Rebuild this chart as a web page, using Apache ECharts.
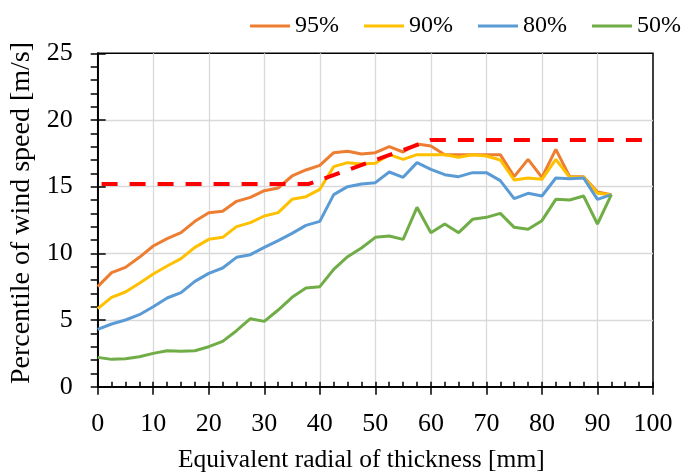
<!DOCTYPE html>
<html>
<head>
<meta charset="utf-8">
<script src="https://cdn.jsdelivr.net/npm/echarts@6/dist/echarts.min.js"></script>
<style>html,body{margin:0;padding:0;background:#fff;}#c{width:689px;height:472px;}</style>
</head>
<body>
<div id="c"></div>
<script>
const radial = [0, 2.5, 5, 7.5, 10, 12.5, 15, 17.5, 20, 22.5, 25, 27.5, 30, 32.5, 35, 37.5, 40, 42.5, 45, 47.5, 50, 52.5, 55, 57.5, 60, 62.5, 65, 67.5, 70, 72.5, 75, 77.5, 80, 82.5, 85, 87.5, 90, 92.5];
const p95 = [7.5, 8.55, 8.95, 9.7, 10.55, 11.1, 11.55, 12.4, 13.05, 13.15, 13.9, 14.2, 14.7, 14.9, 15.8, 16.25, 16.6, 17.55, 17.65, 17.45, 17.55, 18.0, 17.6, 18.2, 18.05, 17.4, 17.4, 17.4, 17.4, 17.4, 15.75, 17.05, 15.7, 17.8, 15.75, 15.75, 14.6, 14.4];
const p90 = [5.85, 6.7, 7.1, 7.75, 8.45, 9.05, 9.6, 10.45, 11.05, 11.2, 12.0, 12.3, 12.8, 13.05, 14.05, 14.25, 14.8, 16.5, 16.8, 16.7, 16.75, 17.4, 17.05, 17.4, 17.4, 17.4, 17.2, 17.4, 17.3, 17.0, 15.5, 15.65, 15.55, 17.05, 15.7, 15.7, 14.5, 14.4];
const p80 = [4.3, 4.7, 5.0, 5.4, 6.0, 6.65, 7.05, 7.9, 8.5, 8.9, 9.7, 9.9, 10.45, 10.95, 11.5, 12.1, 12.4, 14.4, 15.0, 15.2, 15.3, 16.1, 15.7, 16.8, 16.3, 15.9, 15.75, 16.05, 16.05, 15.45, 14.1, 14.5, 14.3, 15.65, 15.6, 15.65, 14.05, 14.4];
const p50 = [2.2, 2.05, 2.1, 2.25, 2.5, 2.7, 2.65, 2.7, 3.0, 3.4, 4.2, 5.1, 4.9, 5.75, 6.7, 7.4, 7.5, 8.8, 9.75, 10.4, 11.2, 11.3, 11.05, 13.45, 11.55, 12.2, 11.55, 12.55, 12.7, 13.0, 11.95, 11.8, 12.45, 14.05, 14.0, 14.3, 12.2, 14.4];
const limitX = [0.7, 38, 60, 99];
const limitY = [15.2, 15.2, 18.5, 18.5];
const seriesNames = ['95%', '90%', '80%', '50%'];
const seriesColors = ['#ED7D31', '#FFC000', '#5B9BD5', '#70AD47'];
const xTitle = 'Equivalent radial of thickness [mm]';
const yTitle = 'Percentile of wind speed [m/s]';

const FONT = 'Liberation Serif';
const pair = (xs, ys) => xs.map((x, i) => [x, ys[i]]);
const values = [p95, p90, p80, p50];

const chart = echarts.init(document.getElementById('c'), null, {renderer: 'canvas'});
const black = {color: '#000', width: 1.5};
chart.setOption({
  animation: false,
  backgroundColor: '#fff',
  textStyle: {fontFamily: FONT, color: '#000'},
  grid: {left: 97.7, right: 36, top: 53.3, bottom: 85.3, outerBoundsMode: 'none', containLabel: false,
         show: true, borderColor: '#000', borderWidth: 1.5, backgroundColor: 'transparent'},
  legend: {
    data: seriesNames, right: 3, top: 9, icon: 'rect', itemWidth: 40, itemHeight: 3, itemGap: 25,
    textStyle: {fontFamily: FONT, fontSize: 24, color: '#000'}
  },
  xAxis: [
    {type: 'value', min: 0, max: 100, interval: 10, position: 'bottom',
     axisLine: {show: true, onZero: false, lineStyle: black},
     axisTick: {show: true, inside: false, length: 8, lineStyle: black},
     axisLabel: {fontFamily: FONT, fontSize: 26, color: '#000', margin: 24},
     splitLine: {show: true, showMinLine: false, showMaxLine: false, lineStyle: {color: '#d9d9d9', width: 1.3}},
     name: xTitle, nameLocation: 'middle', nameGap: 61,
     nameTextStyle: {fontFamily: FONT, fontSize: 25.5, color: '#000', padding: [0, 28, 0, 0]}},
    {type: 'value', min: 0, max: 100, interval: 2.5, position: 'bottom', offset: 0,
     axisLine: {show: true, onZero: false, lineStyle: black},
     axisTick: {show: true, inside: true, length: 5, lineStyle: black},
     axisLabel: {show: false}, splitLine: {show: false}}
  ],
  yAxis: [
    {type: 'value', min: 0, max: 25, interval: 5, position: 'left',
     axisLine: {show: true, onZero: false, lineStyle: black},
     axisTick: {show: true, inside: true, length: 8, lineStyle: black},
     axisLabel: {fontFamily: FONT, fontSize: 26, color: '#000', margin: 25},
     splitLine: {show: true, showMinLine: false, showMaxLine: false, lineStyle: {color: '#d9d9d9', width: 1.3}},
     name: yTitle, nameLocation: 'middle', nameGap: 56,
     nameTextStyle: {fontFamily: FONT, fontSize: 28, color: '#000', padding: [0, 0, 0, 14]}},
    {type: 'value', min: 0, max: 25, interval: 1, position: 'left', offset: 0,
     axisLine: {show: true, onZero: false, lineStyle: black},
     axisTick: {show: true, inside: false, length: 7, lineStyle: black},
     axisLabel: {show: false}, splitLine: {show: false}}
  ],
  series: seriesNames.map((n, i) => ({
    name: n, type: 'line', xAxisIndex: 0, yAxisIndex: 0, symbol: 'none',
    data: pair(radial, values[i]),
    lineStyle: {color: seriesColors[i], width: 3},
    itemStyle: {color: seriesColors[i]}
  })).concat([{
    name: 'limit', type: 'line', xAxisIndex: 0, yAxisIndex: 0, symbol: 'none',
    data: pair(limitX, limitY),
    lineStyle: {color: '#FF0000', width: 4, type: [16, 12]},
    itemStyle: {color: '#FF0000'}
  }])
});
</script>
</body>
</html>
